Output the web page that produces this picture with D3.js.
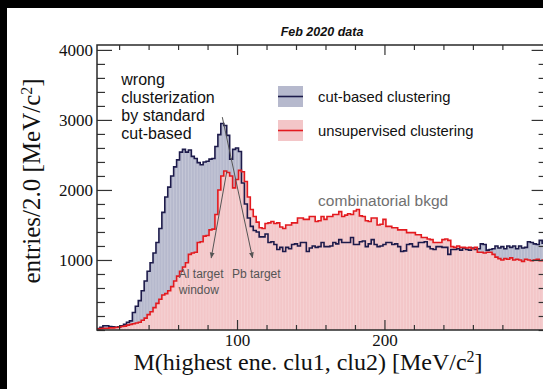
<!DOCTYPE html>
<html>
<head>
<meta charset="utf-8">
<script src="https://cdn.jsdelivr.net/npm/d3@7"></script>
<style>
  body { margin: 0; background: #fff; }
  svg { display: block; }
</style>
</head>
<body>
<svg id="chart" width="543" height="389"></svg>
<script>
// histogram bins: 2 MeV wide starting at 5 MeV
const binStart = 5;
const binWidth = 2;

const cutBased = [
  20, 40, 60, 60, 50, 45, 40, 45, 60, 80,
  110, 130, 250, 340, 420, 560, 700, 840, 960, 1100,
  1250, 1450, 1680, 1900, 2040, 2200, 2330, 2430, 2540, 2580,
  2540, 2570, 2480, 2450, 2390, 2360, 2400, 2410, 2440, 2450,
  2620, 2790, 2950, 2920, 2780, 2440, 2580, 2600, 2550, 2100,
  1800, 1600, 1480, 1420, 1400, 1330, 1330, 1370, 1250, 1260,
  1220, 1150, 1180, 1120, 1180, 1160, 1220, 1230, 1200, 1250,
  1250, 1120, 1170, 1200, 1180, 1190, 1250, 1190, 1190, 1200,
  1250, 1230, 1290, 1250, 1250, 1250, 1320, 1220, 1220, 1260,
  1270, 1190, 1230, 1290, 1220, 1190, 1200, 1220, 1250, 1250,
  1220, 1230, 1190, 1120, 1130, 1220, 1230, 1190, 1190, 1250,
  1250, 1260, 1190, 1160, 1150, 1190, 1190, 1180, 1180, 1080,
  1150, 1150, 1160, 1140, 1170, 1150, 1140, 1170, 1150, 1160,
  1230, 1220, 1140, 1150, 1160, 1200, 1170, 1190, 1160, 1200,
  1180, 1200, 1160, 1200, 1170, 1180, 1260, 1250, 1230, 1220,
  1280, 1240
];

const unsupervised = [
  15, 20, 25, 25, 30, 30, 35, 40, 50, 55,
  70, 80, 90, 100, 110, 140, 170, 220, 260, 320,
  380, 440, 500, 520, 560, 620, 700, 770, 840, 900,
  960, 1080, 1100, 1110, 1250, 1260, 1340, 1350, 1430, 1440,
  1650, 2000, 2200, 2270, 2250, 2200, 2030, 2150, 2280, 2260,
  2120, 1900, 1720, 1620, 1540, 1460, 1450, 1520, 1530, 1550,
  1520, 1530, 1470, 1450, 1500, 1500, 1530, 1530, 1600, 1600,
  1580, 1580, 1620, 1620, 1550, 1560, 1620, 1580, 1620, 1620,
  1650, 1650, 1690, 1620, 1640, 1660, 1650, 1700, 1720, 1630,
  1620, 1560, 1550, 1600, 1600, 1500, 1510, 1580, 1480, 1480,
  1460, 1460, 1430, 1430, 1430, 1390, 1390, 1390, 1360, 1360,
  1320, 1320, 1300, 1290, 1250, 1250, 1250, 1290, 1300, 1280,
  1190, 1180, 1200, 1180, 1180, 1170, 1180, 1160, 1180, 1110,
  1110, 1100, 1110, 1110, 1080, 1040, 1020, 1000, 1020, 1010,
  1030, 1000, 1010, 1000, 980, 1010, 1000, 990, 1000, 1010,
  990, 1000
];

const yMajorTicks = [1000, 2000, 3000, 4000];
const xMajorTicks = [100, 200, 300];
const seriesNames = ['cut-based clustering', 'unsupervised clustering'];

const svg = d3.select('#chart');

const x = d3.scaleLinear().domain([5, 310]).range([97, 546.6]);
const y = d3.scaleLinear().domain([0, 4070]).range([330, 45]);

const serif = '"Liberation Serif", "Times New Roman", serif';
const sans = '"Liberation Sans", Arial, sans-serif';

// clip to the frame
svg.append('clipPath').attr('id', 'plotClip')
  .append('rect')
  .attr('x', x.range()[0]).attr('y', y.range()[1])
  .attr('width', x.range()[1] - x.range()[0])
  .attr('height', y.range()[0] - y.range()[1]);

const plot = svg.append('g').attr('clip-path', 'url(#plotClip)');

// turn a list of bin contents into step points
function steps(values) {
  const pts = values.map((v, i) => ({ x: binStart + i * binWidth, v: v }));
  pts.push({ x: binStart + values.length * binWidth, v: values[values.length - 1] });
  return pts;
}

const area = d3.area()
  .curve(d3.curveStepAfter)
  .x(d => x(d.x))
  .y0(y(0))
  .y1(d => y(d.v));

const line = d3.line()
  .curve(d3.curveStepAfter)
  .x(d => x(d.x))
  .y(d => y(d.v));

// fills
plot.append('path').datum(steps(cutBased))
  .attr('d', area).attr('fill', '#b6b9cd');
plot.append('path').datum(steps(unsupervised))
  .attr('d', area).attr('fill', '#f3c6c8');

// faint bin edges giving the striped look of the fills
plot.selectAll('.edge')
  .data(cutBased)
  .enter().append('line')
  .attr('class', 'edge')
  .attr('x1', (d, i) => x(binStart + i * binWidth))
  .attr('x2', (d, i) => x(binStart + i * binWidth))
  .attr('y1', y(0))
  .attr('y2', (d, i) => y(Math.max(d, unsupervised[i])))
  .attr('stroke', '#ffffff')
  .attr('stroke-opacity', 0.3)
  .attr('stroke-width', 0.7);

// outlines
plot.append('path').datum(steps(cutBased))
  .attr('d', line).attr('fill', 'none')
  .attr('stroke', '#1d1b4b').attr('stroke-width', 1.6);
plot.append('path').datum(steps(unsupervised))
  .attr('d', line).attr('fill', 'none')
  .attr('stroke', '#e31a1f').attr('stroke-width', 1.6);

// axes with ticks pointing inward
const yMinor = d3.range(0, 4050, 200).filter(v => yMajorTicks.indexOf(v) < 0);
const xMinor = d3.range(20, 310, 20).filter(v => xMajorTicks.indexOf(v) < 0);
const intFormat = d3.format('d');

function styleAxis(g) {
  g.select('.domain').remove();
  g.selectAll('line').attr('stroke', '#333').attr('stroke-width', 1.2);
  g.selectAll('text').attr('font-family', serif).attr('font-size', 17).attr('fill', '#111');
}

svg.append('g').attr('transform', `translate(${x.range()[0]},0)`)
  .call(d3.axisLeft(y).tickValues(yMajorTicks).tickFormat(intFormat)
    .tickSizeInner(-15).tickSizeOuter(0).tickPadding(4))
  .call(styleAxis);
svg.append('g').attr('transform', `translate(${x.range()[0]},0)`)
  .call(d3.axisLeft(y).tickValues(yMinor).tickSizeInner(-8).tickSizeOuter(0).tickFormat(''))
  .call(styleAxis);
svg.append('g').attr('transform', `translate(${x.range()[1]},0)`)
  .call(d3.axisRight(y).tickValues(yMajorTicks).tickSizeInner(-15).tickSizeOuter(0).tickFormat(''))
  .call(styleAxis);
svg.append('g').attr('transform', `translate(${x.range()[1]},0)`)
  .call(d3.axisRight(y).tickValues(yMinor).tickSizeInner(-8).tickSizeOuter(0).tickFormat(''))
  .call(styleAxis);

svg.append('g').attr('transform', `translate(0,${y.range()[0]})`)
  .call(d3.axisBottom(x).tickValues([100, 200]).tickFormat(intFormat)
    .tickSizeInner(-10).tickSizeOuter(0).tickPadding(4))
  .call(styleAxis);
svg.append('g').attr('transform', `translate(0,${y.range()[0]})`)
  .call(d3.axisBottom(x).tickValues(xMinor).tickSizeInner(-5).tickSizeOuter(0).tickFormat(''))
  .call(styleAxis);
svg.append('g').attr('transform', `translate(0,${y.range()[1]})`)
  .call(d3.axisTop(x).tickValues([100, 200]).tickSizeInner(-10).tickSizeOuter(0).tickFormat(''))
  .call(styleAxis);
svg.append('g').attr('transform', `translate(0,${y.range()[1]})`)
  .call(d3.axisTop(x).tickValues(xMinor).tickSizeInner(-5).tickSizeOuter(0).tickFormat(''))
  .call(styleAxis);

// frame
svg.append('rect')
  .attr('x', x.range()[0]).attr('y', y.range()[1])
  .attr('width', x.range()[1] - x.range()[0])
  .attr('height', y.range()[0] - y.range()[1])
  .attr('fill', 'none').attr('stroke', '#2a2a2a').attr('stroke-width', 1.5);

// axis titles
const yTitle = svg.append('text')
  .attr('transform', 'translate(40,181) rotate(-90)')
  .attr('text-anchor', 'middle')
  .attr('font-family', serif).attr('font-size', 25).attr('fill', '#111');
yTitle.append('tspan').text('entries/2.0 [MeV/c');
yTitle.append('tspan').attr('baseline-shift', 'super').attr('font-size', 16).text('2');
yTitle.append('tspan').text(']');

const xTitle = svg.append('text')
  .attr('x', 308).attr('y', 370)
  .attr('text-anchor', 'middle')
  .attr('font-family', serif).attr('font-size', 24).attr('fill', '#111');
xTitle.append('tspan').text('M(highest ene. clu1, clu2) [MeV/c');
xTitle.append('tspan').attr('baseline-shift', 'super').attr('font-size', 16).text('2');
xTitle.append('tspan').text(']');

// title
svg.append('text')
  .attr('x', 322).attr('y', 36)
  .attr('text-anchor', 'middle')
  .attr('font-family', sans).attr('font-size', 12.5)
  .attr('font-weight', 'bold').attr('font-style', 'italic')
  .attr('fill', '#111')
  .text('Feb 2020 data');

// legend
const legend = svg.append('g').attr('transform', 'translate(278,86)');
const legendStyle = [
  { fill: '#b6b9cd', stroke: '#1d1b4b' },
  { fill: '#f3c6c8', stroke: '#e31a1f' }
];
seriesNames.forEach((name, i) => {
  const g = legend.append('g').attr('transform', `translate(0,${i * 34})`);
  g.append('rect').attr('width', 25).attr('height', 21).attr('fill', legendStyle[i].fill);
  g.append('line').attr('x1', 0).attr('x2', 25).attr('y1', 10.5).attr('y2', 10.5)
    .attr('stroke', legendStyle[i].stroke).attr('stroke-width', 1.6);
  g.append('text').attr('x', 40).attr('y', 16)
    .attr('font-family', sans).attr('font-size', 14.8).attr('fill', '#111')
    .text(name);
});

// annotations
const note = svg.append('text')
  .attr('font-family', sans).attr('font-size', 16).attr('fill', '#111');
['wrong', 'clusterization', 'by standard', 'cut-based'].forEach((t, i) => {
  note.append('tspan').attr('x', x(21.5)).attr('y', 85 + i * 18).text(t);
});

svg.append('text')
  .attr('x', x(155)).attr('y', y(1770))
  .attr('font-family', sans).attr('font-size', 15.5).attr('fill', '#707070')
  .text('combinatorial bkgd');

const targets = svg.append('g')
  .attr('font-family', sans).attr('font-size', 12).attr('fill', '#555');
targets.append('text').attr('x', x(60.5)).attr('y', y(740)).text('Al target');
targets.append('text').attr('x', x(60.5)).attr('y', y(510)).text('window');
targets.append('text').attr('x', x(96.5)).attr('y', y(740)).text('Pb target');

svg.append('defs').append('marker')
  .attr('id', 'head').attr('viewBox', '0 0 10 10')
  .attr('refX', 9).attr('refY', 5)
  .attr('markerWidth', 6).attr('markerHeight', 6)
  .attr('orient', 'auto')
  .append('path').attr('d', 'M0,1 L10,5 L0,9 Z').attr('fill', '#555');

const arrows = [
  { x1: 93, y1: 2260, x2: 82.5, y2: 1030 },
  { x1: 90, y1: 3040, x2: 110.5, y2: 1030 }
];
svg.selectAll('.arrow')
  .data(arrows)
  .enter().append('line')
  .attr('class', 'arrow')
  .attr('x1', d => x(d.x1)).attr('y1', d => y(d.y1))
  .attr('x2', d => x(d.x2)).attr('y2', d => y(d.y2))
  .attr('stroke', '#555').attr('stroke-width', 1)
  .attr('marker-end', 'url(#head)');

// black scan border on top and left
svg.append('rect').attr('width', 543).attr('height', 8).attr('fill', '#000');
svg.append('rect').attr('width', 7).attr('height', 389).attr('fill', '#000');
</script>
</body>
</html>
